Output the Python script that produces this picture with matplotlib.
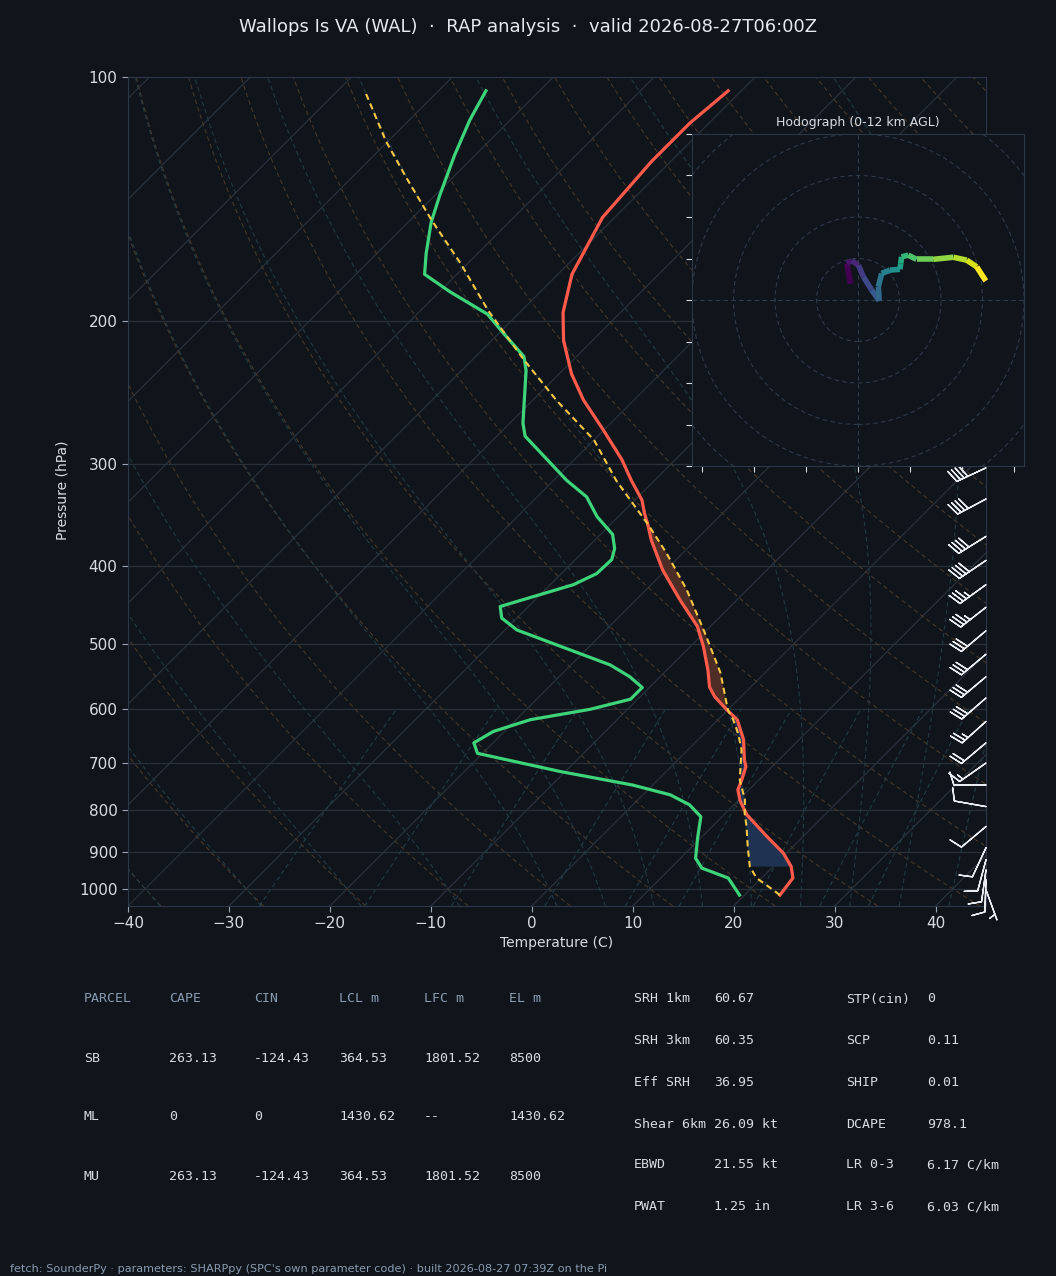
import numpy as np
import matplotlib

matplotlib.use("Agg")
import matplotlib.pyplot as plt
from matplotlib.collections import LineCollection
from matplotlib.colors import Normalize
from matplotlib.patches import Circle
from matplotlib.ticker import NullLocator, FixedLocator, FixedFormatter

# --- sounding (hPa, degC) ---
P_T = [1018, 970, 939, 904, 862, 811, 785, 777, 755, 734, 707, 694, 655, 619, 602,
       580, 564, 538, 503, 475, 441, 405, 372, 355, 345, 332, 314, 296, 272, 250,
       232, 211, 195, 175, 149, 127, 114, 104]
T_C = [23.5, 23.1, 21.8, 19.7, 16.4, 12.3, 10.6, 10.1, 8.9, 8.3, 7.4, 6.6, 4.5, 1.9, -0.1,
       -2.6, -4.1, -5.9, -8.7, -11.3, -15.6, -20.3, -24.4, -26.4, -27.7, -29.3, -32.3, -35.3, -40.1, -45.0,
       -48.8, -52.9, -55.7, -58.6, -61.2, -61.9, -61.9, -61.3]

P_TD = [1018, 970, 943, 917, 866, 815, 788, 766, 745, 717, 681, 661, 640, 619, 601,
        584, 565, 548, 530, 480, 464, 449, 422, 409, 393, 381, 366, 348, 329, 314,
        296, 277, 267, 230, 221, 207, 196, 184, 175, 165, 151, 140, 125, 113, 104]
TD_C = [19.5, 16.7, 13.1, 11.5, 9.7, 7.9, 5.6, 2.7, -2.0, -10.5, -20.5, -21.9, -21.1, -18.6, -13.7,
        -10.7, -10.7, -13.0, -16.1, -28.8, -31.5, -32.8, -27.7, -26.5, -26.4, -27.2, -28.8, -32.1, -35.1, -38.7,
        -42.7, -47.2, -48.7, -53.6, -55.2, -59.5, -63.0, -68.9, -73.2, -75.1, -77.7, -79.5, -82.0, -84.0, -85.3]

P_PCL = [1018, 1003, 970, 939, 887, 838, 807, 777, 734, 674, 643, 619, 602, 542, 484,
         428, 386, 355, 329, 314, 280, 250, 223, 194, 170, 150, 133, 120, 104]
PCL_C = [23.5, 22.3, 19.5, 17.7, 15.5, 13.4, 11.9, 10.6, 8.1, 5.3, 3.3, 1.5, 0.0, -4.4, -9.9,
         -16.0, -21.6, -26.4, -31.0, -33.8, -40.0, -47.7, -54.9, -63.3, -70.6, -77.9, -84.6, -90.2, -97.3]

# shaded layers (hPa): positive area and inhibition
CAPE_LAYER = (355, 602)
CIN_LAYER = (602, 939)

# wind barbs on the right edge (hPa, kt, direction from)
P_BARB = [303, 331, 368, 394, 422, 450, 481, 514, 548, 582, 622, 661, 700, 745, 792,
          838, 890, 921, 948, 975, 1003]
SPD_BARB = [40, 40, 40, 40, 35, 35, 30, 30, 30, 30, 25, 20, 15, 10, 10,
            10, 10, 10, 10, 10, 5]
DIR_BARB = [245, 242, 238, 236, 234, 232, 230, 230, 230, 229, 228, 230, 235, 270, 280,
            230, 205, 195, 188, 182, 160]

# hodograph trace (kt)
U_HODO = [-1.8, -2.7, -1.5, 0.1, 1.3, 3.3, 5.1, 4.9, 5.7, 7.7, 10.1, 10.3, 10.5, 12.1,
          14.1, 18.1, 23.0, 26.2, 28.6, 30.8]
V_HODO = [3.9, 8.8, 9.5, 8.4, 5.6, 2.4, -0.2, 3.2, 6.4, 7.2, 7.4, 8.8, 10.4, 10.8,
          9.8, 9.8, 10.3, 9.6, 8.0, 4.6]

# parameter tables
PARCEL_HDR = ["PARCEL", "CAPE", "CIN", "LCL m", "LFC m", "EL m"]
PARCEL_ROWS = [
    ["SB", "263.13", "-124.43", "364.53", "1801.52", "8500"],
    ["ML", "0", "0", "1430.62", "--", "1430.62"],
    ["MU", "263.13", "-124.43", "364.53", "1801.52", "8500"],
]
KIN_NAMES = ["SRH 1km", "SRH 3km", "Eff SRH", "Shear 6km", "EBWD", "PWAT"]
KIN_VALUES = ["60.67", "60.35", "36.95", "26.09 kt", "21.55 kt", "1.25 in"]
COMP_NAMES = ["STP(cin)", "SCP", "SHIP", "DCAPE", "LR 0-3", "LR 3-6"]
COMP_VALUES = ["0", "0.11", "0.01", "978.1", "6.17 C/km", "6.03 C/km"]

TITLE = "Wallops Is VA (WAL)  \u00b7  RAP analysis  \u00b7  valid 2026-08-27T06:00Z"
FOOTER = ("fetch: SounderPy \u00b7 parameters: SHARPpy (SPC's own parameter code) \u00b7 "
          "built 2026-08-27 07:39Z on the Pi")

BG = "#10151c"
SPINE = "#2d3846"
TXT = "#d8dce2"
MUTED = "#8a9bb0"
W, H = 1056, 1276
P_BOT, P_TOP = 1050.0, 100.0
XMIN, XMAX = -40, 45

fig = plt.figure(figsize=(W / 100, H / 100), dpi=100, facecolor=BG)


def fx(px):
    return px / W


def fy(py):
    return 1 - py / H


ax_l, ax_r, ax_t, ax_b = 128, 986, 77, 906
ax = fig.add_axes([fx(ax_l), fy(ax_b), fx(ax_r - ax_l), (ax_b - ax_t) / H], facecolor=BG)
ax.set_yscale("log")
ax.set_ylim(P_BOT, P_TOP)
ax.set_xlim(XMIN, XMAX)

# skew so isotherms run at 45 degrees on screen
K = ((ax_b - ax_t) / np.log10(P_BOT / P_TOP)) / ((ax_r - ax_l) / (XMAX - XMIN))


def sk(t, p):
    return np.asarray(t, float) + K * np.log10(P_BOT / np.asarray(p, float))


# --- background: pressure lines, isotherms, adiabats, mixing lines ---
pticks = [100, 200, 300, 400, 500, 600, 700, 800, 900, 1000]
for p in pticks[1:]:
    ax.axhline(p, color="#28303a", lw=0.9, zorder=1)
for t in range(-170, 50, 10):
    ax.plot(sk([t, t], [P_BOT, P_TOP]), [P_BOT, P_TOP], color="#29313b", lw=0.9, zorder=1)

pp = np.linspace(P_BOT, P_TOP, 120)
for t0 in range(-40, 201, 10):
    tt = (t0 + 273.15) * (pp / 1000.0) ** 0.2857 - 273.15
    ax.plot(sk(tt, pp), pp, color="#45382b", lw=0.8, ls=(0, (4, 3)), zorder=1)


def moist_rate(tk, p):
    es = 6.112 * np.exp(17.67 * (tk - 273.15) / (tk - 29.65))
    rs = 0.622 * es / (p - es)
    return (287.04 * tk + 2.501e6 * rs) / (1005.7 + 2.501e6 ** 2 * rs * 0.622 / (287.04 * tk * tk)) / p


def moist_adiabat(t0, plev):
    out = np.empty_like(plev)
    tk = t0 + 273.15
    out[0] = tk
    for i in range(1, len(plev)):
        h = plev[i] - plev[i - 1]
        p0 = plev[i - 1]
        k1 = moist_rate(tk, p0)
        k2 = moist_rate(tk + h * k1 / 2, p0 + h / 2)
        k3 = moist_rate(tk + h * k2 / 2, p0 + h / 2)
        k4 = moist_rate(tk + h * k3, p0 + h)
        tk = tk + h * (k1 + 2 * k2 + 2 * k3 + k4) / 6
        out[i] = tk
    return out - 273.15


p_up = np.linspace(1000, P_TOP, 120)
p_dn = np.linspace(1000, P_BOT, 10)
for t0 in list(range(-40, 0, 10)) + list(range(0, 46, 5)):
    up = moist_adiabat(t0, p_up)
    dn = moist_adiabat(t0, p_dn)
    pm = np.concatenate([p_dn[::-1], p_up[1:]])
    tm = np.concatenate([dn[::-1], up[1:]])
    ax.plot(sk(tm, pm), pm, color="#233a42", lw=0.8, ls=(0, (4, 3)), zorder=1)

for w in [0.0004, 0.001, 0.002, 0.004, 0.007, 0.01, 0.016, 0.024, 0.032]:
    pw = np.linspace(P_BOT, 600, 20)
    e = pw * w / (0.622 + w)
    a = np.log(e / 6.112)
    td = 243.5 * a / (17.67 - a)
    ax.plot(sk(td, pw), pw, color="#233c44", lw=0.8, ls=(0, (4, 3)), zorder=1)


# --- shaded parcel areas ---
def shade(layer, color):
    lo, hi = layer
    pt = np.array(P_T)
    pc = np.array(P_PCL)
    mt = (pt >= lo) & (pt <= hi)
    mc = (pc >= lo) & (pc <= hi)
    xs = np.concatenate([sk(np.array(T_C)[mt], pt[mt]), sk(np.array(PCL_C)[mc], pc[mc])[::-1]])
    ys = np.concatenate([pt[mt], pc[mc][::-1]])
    ax.fill(xs, ys, color=color, lw=0, zorder=2)


shade(CAPE_LAYER, "#4d2d26")
shade(CIN_LAYER, "#1e3352")

# --- profiles ---
ax.plot(sk(T_C, P_T), P_T, color="#ff5a4a", lw=2.3, zorder=4)
ax.plot(sk(TD_C, P_TD), P_TD, color="#3dd47a", lw=2.3, zorder=4)
ax.plot(sk(PCL_C, P_PCL), P_PCL, color="#f7c843", lw=1.5, ls=(0, (3, 2)), zorder=5)

# --- wind barbs along the right edge ---
rad = np.radians(DIR_BARB)
ub = -np.array(SPD_BARB) * np.sin(rad)
vb = -np.array(SPD_BARB) * np.cos(rad)
ax.barbs(np.ones(len(P_BARB)), P_BARB, ub, vb, transform=ax.get_yaxis_transform(),
         clip_on=False, length=6.8, color="#e8ebef", linewidth=1.0, zorder=6)

# --- axes cosmetics ---
ax.yaxis.set_major_locator(FixedLocator(pticks))
ax.yaxis.set_major_formatter(FixedFormatter([str(p) for p in pticks]))
ax.yaxis.set_minor_locator(NullLocator())
ax.set_xticks(range(-40, 41, 10))
ax.tick_params(colors=TXT, labelsize=11, length=4, color="#9aa5b3")
for s in ax.spines.values():
    s.set_color(SPINE)
fig.text(fx(63), fy(490), "Pressure (hPa)", rotation=90, ha="center", va="center",
         color=TXT, fontsize=10)
fig.text(fx(557), fy(943), "Temperature (C)", ha="center", va="center", color=TXT, fontsize=10)
fig.text(0.5, fy(27), TITLE, ha="center", va="center", color="#e6e9ee", fontsize=13)

# --- hodograph inset ---
hx0, hy0, hx1, hy1 = 692, 134, 1024, 466
hax = fig.add_axes([fx(hx0), fy(hy1), fx(hx1 - hx0), (hy1 - hy0) / H], facecolor=BG, zorder=10)
hax.set_xlim(-40, 40)
hax.set_ylim(-40, 40)
for r in range(10, 61, 10):
    hax.add_patch(Circle((0, 0), r, fill=False, ls=(0, (4, 3)), lw=0.8, color="#2e3a48"))
hax.axhline(0, color="#2e3a48", lw=0.8, ls=(0, (4, 3)))
hax.axvline(0, color="#2e3a48", lw=0.8, ls=(0, (4, 3)))
pts = np.column_stack([U_HODO, V_HODO])
segs = np.stack([pts[:-1], pts[1:]], axis=1)
lc = LineCollection(segs, cmap="viridis", norm=Normalize(0, len(segs) - 1), lw=4, capstyle="butt")
lc.set_array(np.arange(len(segs)))
hax.add_collection(lc)
hax.set_xticks(np.arange(-37.5, 38, 12.5))
hax.set_yticks(range(-40, 41, 10))
hax.set_xticklabels([])
hax.set_yticklabels([])
hax.tick_params(color="#d8dce2", length=4)
for s in hax.spines.values():
    s.set_color(SPINE)
hax.set_title("Hodograph (0-12 km AGL)", color=TXT, fontsize=9, pad=6)

# --- parameter tables ---
mono = "DejaVu Sans Mono"
fs = 9.5
cols = [84, 169, 254, 339, 424, 509]
for x, h in zip(cols, PARCEL_HDR):
    fig.text(fx(x), fy(999), h, color=MUTED, fontsize=fs, family=mono, va="center")
for row, y in zip(PARCEL_ROWS, [1058, 1117, 1176]):
    for x, v in zip(cols, row):
        fig.text(fx(x), fy(y), v, color=TXT, fontsize=fs, family=mono, va="center")

rows_y = [999, 1041, 1082, 1124, 1165, 1207]
for y, a, b, c, d in zip(rows_y, KIN_NAMES, KIN_VALUES, COMP_NAMES, COMP_VALUES):
    fig.text(fx(634), fy(y), a, color=TXT, fontsize=fs, family=mono, va="center")
    fig.text(fx(714), fy(y), b, color=TXT, fontsize=fs, family=mono, va="center")
    fig.text(fx(846), fy(y), c, color=TXT, fontsize=fs, family=mono, va="center")
    fig.text(fx(927), fy(y), d, color=TXT, fontsize=fs, family=mono, va="center")

fig.text(fx(10), fy(1269), FOOTER, color=MUTED, fontsize=8.15, va="center")

fig.savefig("out.png", dpi=100, facecolor=BG)
